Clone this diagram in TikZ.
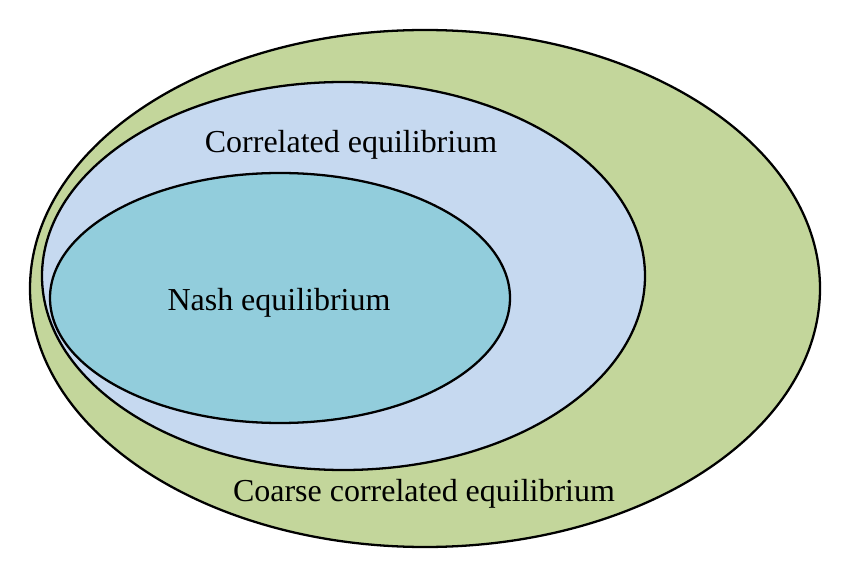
\documentclass[tikz,border=0pt]{standalone}
\usepackage{fontspec}
\setmainfont{Liberation Serif}
\definecolor{coarsegreen}{HTML}{C3D69B}
\definecolor{corrblue}{HTML}{C6D9F0}
\definecolor{nashteal}{HTML}{92CDDC}
\begin{document}
\begin{tikzpicture}[
    eqset/.style={draw=black, line width=1.3pt},
    eqlabel/.style={font=\fontsize{18.2}{22}\selectfont, inner sep=0pt}]
      \useasboundingbox (0,0) rectangle (17,11.54);

      % the sets
      \draw[eqset, fill=coarsegreen] (8.5,5.77) ellipse [x radius=7.9cm, y radius=5.17cm];
      \draw[eqset, fill=corrblue] (6.87,6.02) ellipse [x radius=6.03cm, y radius=3.88cm];
      \draw[eqset, fill=nashteal] (5.6,5.58) ellipse [x radius=4.6cm, y radius=2.5cm];

      % labels
      \node[eqlabel] (corr) at (7.02,8.64) {Correlated equilibrium};
      \node[eqlabel] (nash) at (5.58,5.48) {Nash equilibrium};
      \node[eqlabel] (coarse) at (8.48,1.66) {Coarse correlated equilibrium};
    \end{tikzpicture}
\end{document}
